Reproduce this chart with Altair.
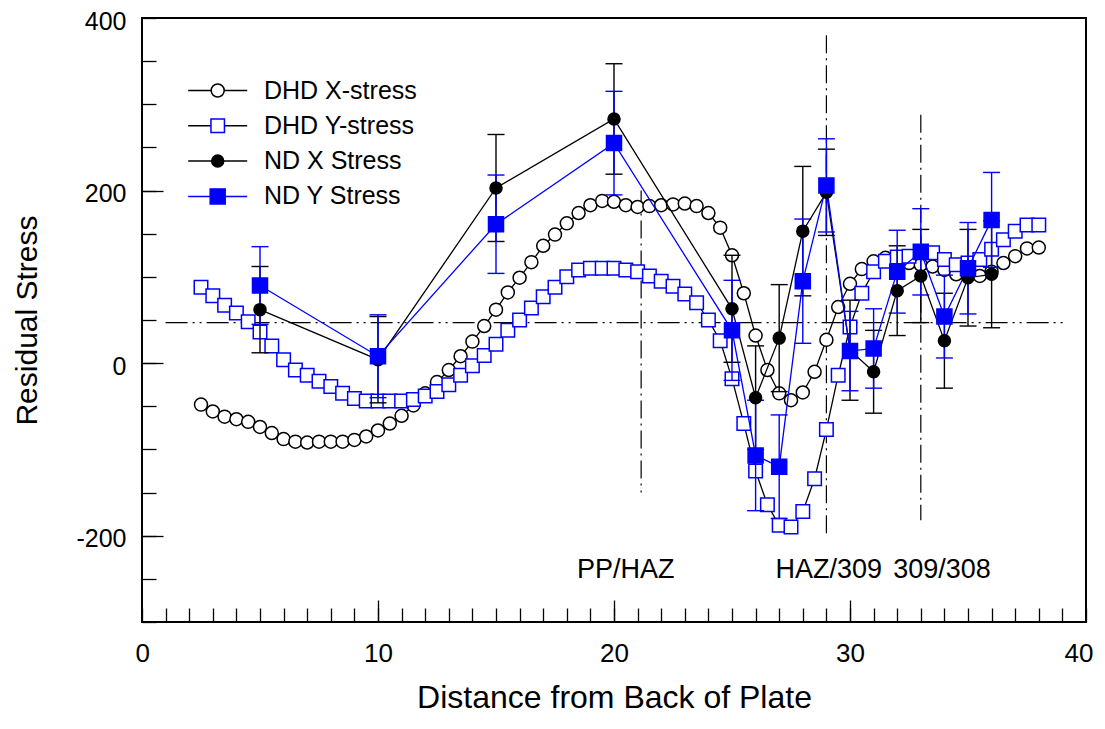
import altair as alt
import pandas as pd

# ---------------- data ----------------
DHD_POS = [2.5, 3.0, 3.5, 4.0, 4.5, 5.0, 5.5, 6.0, 6.5, 7.0, 7.5, 8.0, 8.5, 9.0, 9.5, 10.0,
           10.5, 11.0, 11.5, 12.0, 12.5, 13.0, 13.5, 14.0, 14.5, 15.0, 15.5, 16.0, 16.5, 17.0,
           17.5, 18.0, 18.5, 19.0, 19.5, 20.0, 20.5, 21.0, 21.5, 22.0, 22.5, 23.0, 23.5, 24.0,
           24.5, 25.0, 25.5, 26.0, 26.5, 27.0, 27.5, 28.0, 28.5, 29.0, 29.5, 30.0, 30.5, 31.0,
           31.5, 32.0, 32.5, 33.0, 33.5, 34.0, 34.5, 35.0, 35.5, 36.0, 36.5, 37.0, 37.5, 38.0]
DHD_X = [-48, -56, -62, -65, -68, -74, -81, -88, -91, -92, -91, -91, -91, -89, -85, -78,
         -70, -61, -49, -35, -22, -8, 8, 25, 43, 62, 82, 99, 117, 136,
         149, 162, 174, 183, 188, 187, 183, 181, 182, 183, 184, 185, 182, 174,
         157, 125, 81, 32, -8, -35, -43, -34, -10, 27, 65, 92, 109, 118,
         122, 122, 116, 114, 112, 108, 103, 101, 101, 106, 116, 124, 133, 134]
DHD_Y = [88, 78, 67, 58, 48, 36, 20, 4, -8, -14, -21, -27, -35, -41, -44, -44,
         -44, -44, -42, -38, -33, -25, -14, -3, 9, 22, 38, 50, 64, 77,
         88, 100, 108, 110, 110, 110, 108, 106, 101, 95, 89, 80, 70, 50,
         26, -18, -70, -125, -164, -188, -190, -172, -134, -77, -14, 42, 81, 106,
         118, 123, 124, 128, 128, 120, 114, 116, 120, 132, 143, 153, 160, 160]

ND_POS = [5, 10, 15, 20, 25, 26, 27, 28, 29, 30, 31, 32, 33, 34, 35, 36]
ND_X = [62, 4, 203, 283, 63, -40, 29, 153, 198, 15, -10, 84, 101, 26, 99, 103]
ND_X_ERR = [50, 50, 62, 64, 62, 60, 62, 75, 50, 58, 48, 52, 54, 55, 56, 62]
ND_Y = [90, 8, 161, 255, 38, -107, -120, 95, 206, 14, 17, 106, 129, 54, 110, 166]
ND_Y_ERR = [45, 48, 57, 60, 58, 64, 60, 72, 54, 46, 46, 48, 50, 48, 53, 55]

SERIES = ["DHD X-stress", "DHD Y-stress", "ND X Stress", "ND Y Stress"]
MKEYS = ["m1", "m2", "m3", "m4"]

REF_H_Y = [47]
REF_H_X1 = [1.0]
REF_H_X2 = [39.2]
REF_V_X = [21.15, 29.0, 33.0]
REF_V_TOP = [200, 380, 288]
REF_V_BOT = [-150, -203, -182]

ANNOT_TEXT = ["PP/HAZ", "HAZ/309", "309/308"]
ANNOT_X = [20.5, 29.1, 33.9]
ANNOT_Y = [-240, -240, -240]

X_LABEL_VALUES = [0, 10, 20, 30, 40]
X_MINOR_VALUES = list(range(0, 41))
X_MAJOR_VALUES = [10, 20, 30]
Y_LABEL_VALUES = [-200, 0, 200, 400]
Y_MINOR_VALUES = [-300, -250, -200, -150, -100, -50, 0, 50, 100, 150, 200, 250, 300, 350, 400]
Y_MAJOR_VALUES = [-200, 0, 200]

# ---------------- styles ----------------
FONT = "Liberation Sans"
BLUE = "#0000ff"
W, H = 944, 604
SYM = 1122.25
UNIT = (SYM ** 0.5) / 2.0


def circle_path(r):
    u = r / UNIT
    return f"M{-u:.4f},0A{u:.4f},{u:.4f} 0 1,1 {u:.4f},0A{u:.4f},{u:.4f} 0 1,1 {-u:.4f},0Z"


def square_path(h):
    u = h / UNIT
    return f"M{-u:.4f},{-u:.4f}H{u:.4f}V{u:.4f}H{-u:.4f}Z"


LINE_PATH = f"M{-29.5 / UNIT:.4f},0H{29.5 / UNIT:.4f}"

LINE_COLORS = ["black", "black", "black", BLUE]
MARK_SHAPES = [circle_path(6.5), square_path(6.75), circle_path(6.0), square_path(7.5)]
MARK_FILLS = ["white", "white", "black", BLUE]
MARK_STROKES = ["black", BLUE, "black", BLUE]

# ---------------- tables ----------------
dhd = pd.concat([
    pd.DataFrame({"x": DHD_POS, "y": DHD_X, "series": SERIES[0], "mkey": MKEYS[0]}),
    pd.DataFrame({"x": DHD_POS, "y": DHD_Y, "series": SERIES[1], "mkey": MKEYS[1]}),
], ignore_index=True)

ndx = pd.DataFrame({"x": ND_POS, "y": ND_X, "series": SERIES[2], "mkey": MKEYS[2],
                    "lo": [v - e for v, e in zip(ND_X, ND_X_ERR)],
                    "hi": [v + e for v, e in zip(ND_X, ND_X_ERR)]})
ndy = pd.DataFrame({"x": ND_POS, "y": ND_Y, "series": SERIES[3], "mkey": MKEYS[3],
                    "lo": [v - e for v, e in zip(ND_Y, ND_Y_ERR)],
                    "hi": [v + e for v, e in zip(ND_Y, ND_Y_ERR)]})
nd = pd.concat([ndx, ndy], ignore_index=True)


def caps(df):
    return pd.concat([pd.DataFrame({"x": df["x"], "c": df["lo"]}),
                      pd.DataFrame({"x": df["x"], "c": df["hi"]})], ignore_index=True)


ref_h = pd.DataFrame({"x1": REF_H_X1, "x2": REF_H_X2, "y": REF_H_Y})
ref_v = pd.DataFrame({"x": REF_V_X, "top": REF_V_TOP, "bot": REF_V_BOT})
annot = pd.DataFrame({"x": ANNOT_X, "y": ANNOT_Y, "t": ANNOT_TEXT})

# ---------------- scales / axes / legends ----------------
xs = alt.Scale(domain=[0, 40], nice=False, zero=False)
ys = alt.Scale(domain=[-300, 400], nice=False, zero=False)

HYPHEN_LABEL = "datum.value < 0 ? '-' + abs(datum.value) : '' + datum.value"

ax_x_lab = alt.Axis(orient="bottom", values=X_LABEL_VALUES, ticks=False, tickSize=0, domain=False,
                    grid=False, labelFont=FONT, labelFontSize=26, labelColor="black", labelPadding=18,
                    labelFlush=True, labelFlushOffset=7, labelExpr=HYPHEN_LABEL,
                    title="Distance from Back of Plate", titleFont=FONT, titleFontSize=32,
                    titleFontWeight="normal", titleColor="black", titleBaseline="alphabetic",
                    titleY=85, titleX=W / 2, titleAlign="center")
ax_y_lab = alt.Axis(orient="left", values=Y_LABEL_VALUES, ticks=False, tickSize=0, domain=False,
                    grid=False, labelFont=FONT, labelFontSize=25, labelColor="black", labelPadding=16,
                    labelFlush=False, labelOffset=3, labelExpr=HYPHEN_LABEL,
                    title="Residual Stress", titleFont=FONT, titleFontSize=30,
                    titleFontWeight="normal", titleColor="black", titleBaseline="alphabetic",
                    titleX=-106, titleY=H / 2, titleAngle=270, titleAlign="center")
ax_x_minor = alt.Axis(orient="top", offset=-H, values=X_MINOR_VALUES, labels=False, domain=False,
                      grid=False, ticks=True, tickSize=14, tickColor="black", tickWidth=1.3, title=None)
ax_x_major = alt.Axis(orient="top", offset=-H, values=X_MAJOR_VALUES, labels=False, domain=False,
                      grid=False, ticks=True, tickSize=22, tickColor="black", tickWidth=1.3, title=None)
ax_y_minor = alt.Axis(orient="right", offset=-W, values=Y_MINOR_VALUES, labels=False, domain=False,
                      grid=False, ticks=True, tickSize=14, tickColor="black", tickWidth=1.3, title=None)
ax_y_major = alt.Axis(orient="right", offset=-W, values=Y_MAJOR_VALUES, labels=False, domain=False,
                      grid=False, ticks=True, tickSize=21, tickColor="black", tickWidth=1.3, title=None)

LEG_X, LEG_Y = 58.2, 55.0
LEG_ROWPAD = 4.3
leg_lines = alt.Legend(title=None, orient="none", legendX=LEG_X, legendY=LEG_Y, symbolType=LINE_PATH,
                       symbolSize=SYM, symbolStrokeWidth=1.5, labelFont=FONT, labelFontSize=25,
                       labelColor="black", labelOffset=28.8, rowPadding=LEG_ROWPAD, padding=0)
leg_marks = alt.Legend(title=None, orient="none", legendX=LEG_X, legendY=LEG_Y, symbolSize=SYM,
                       symbolStrokeWidth=1.5, labelFont=FONT, labelFontSize=25, labelOpacity=0,
                       labelExpr="' '", labelOffset=28.8, rowPadding=LEG_ROWPAD, padding=0)

color_enc = alt.Color("series:N", scale=alt.Scale(domain=SERIES, range=LINE_COLORS), legend=leg_lines)
shape_enc = alt.Shape("mkey:N", scale=alt.Scale(domain=MKEYS, range=MARK_SHAPES), legend=leg_marks)
fill_enc = alt.Fill("mkey:N", scale=alt.Scale(domain=MKEYS, range=MARK_FILLS), legend=leg_marks)
stroke_enc = alt.Stroke("mkey:N", scale=alt.Scale(domain=MKEYS, range=MARK_STROKES), legend=leg_marks)

# ---------------- layers ----------------
ref_h_layer = alt.Chart(ref_h).mark_rule(color="black", strokeWidth=1.2, strokeDash=[22, 5, 2, 5, 2, 5]).encode(
    x=alt.X("x1:Q", scale=xs, axis=None), x2="x2:Q", y=alt.Y("y:Q", scale=ys, axis=None))
ref_v_layer = alt.Chart(ref_v).mark_rule(color="black", strokeWidth=1.2, strokeDash=[18, 5, 2, 5]).encode(
    x=alt.X("x:Q", scale=xs, axis=None), y=alt.Y("top:Q", scale=ys, axis=None), y2="bot:Q")

dhd_lines = alt.Chart(dhd).mark_line(strokeWidth=1.3).encode(
    x=alt.X("x:Q", scale=xs, axis=ax_x_lab), y=alt.Y("y:Q", scale=ys, axis=ax_y_lab),
    color=color_enc, order="x:Q")
dhd_points = alt.Chart(dhd).mark_point(size=SYM, strokeWidth=1.5, opacity=1).encode(
    x=alt.X("x:Q", scale=xs, axis=ax_x_minor), y=alt.Y("y:Q", scale=ys, axis=ax_y_minor),
    shape=shape_enc, fill=fill_enc, stroke=stroke_enc)


def err_layers(df, col):
    bars = alt.Chart(df).mark_rule(color=col, strokeWidth=1.4).encode(
        x=alt.X("x:Q", scale=xs, axis=None), y=alt.Y("lo:Q", scale=ys, axis=None), y2="hi:Q")
    cp = alt.Chart(caps(df)).mark_rule(color=col, strokeWidth=1.4, xOffset=-8.5, x2Offset=8.5).encode(
        x=alt.X("x:Q", scale=xs, axis=None), x2="x:Q", y=alt.Y("c:Q", scale=ys, axis=None))
    return [bars, cp]


nd_lines = alt.Chart(nd).mark_line(strokeWidth=1.3).encode(
    x=alt.X("x:Q", scale=xs, axis=ax_x_major), y=alt.Y("y:Q", scale=ys, axis=ax_y_major),
    color=color_enc, order="x:Q")
nd_points = alt.Chart(nd).mark_point(size=SYM, strokeWidth=1.5, opacity=1).encode(
    x=alt.X("x:Q", scale=xs, axis=None), y=alt.Y("y:Q", scale=ys, axis=None),
    shape=shape_enc, fill=fill_enc, stroke=stroke_enc)

annot_layer = alt.Chart(annot).mark_text(font=FONT, fontSize=27, color="black", baseline="middle",
                                         align="center").encode(
    x=alt.X("x:Q", scale=xs, axis=None), y=alt.Y("y:Q", scale=ys, axis=None), text="t:N")

layers = ([ref_h_layer, ref_v_layer, dhd_lines, dhd_points]
          + err_layers(ndx, "black") + err_layers(ndy, BLUE)
          + [nd_lines, nd_points, annot_layer])

chart = alt.layer(*layers).properties(
    width=W, height=H,
    autosize=alt.AutoSizeParams(type="none"),
    padding={"left": 134, "top": 10, "right": 10, "bottom": 95},
    background="white",
).resolve_axis(x="independent", y="independent").configure_view(
    stroke="black", strokeWidth=2
)

chart.save("out.html", embed_options={"renderer": "svg", "actions": False})
